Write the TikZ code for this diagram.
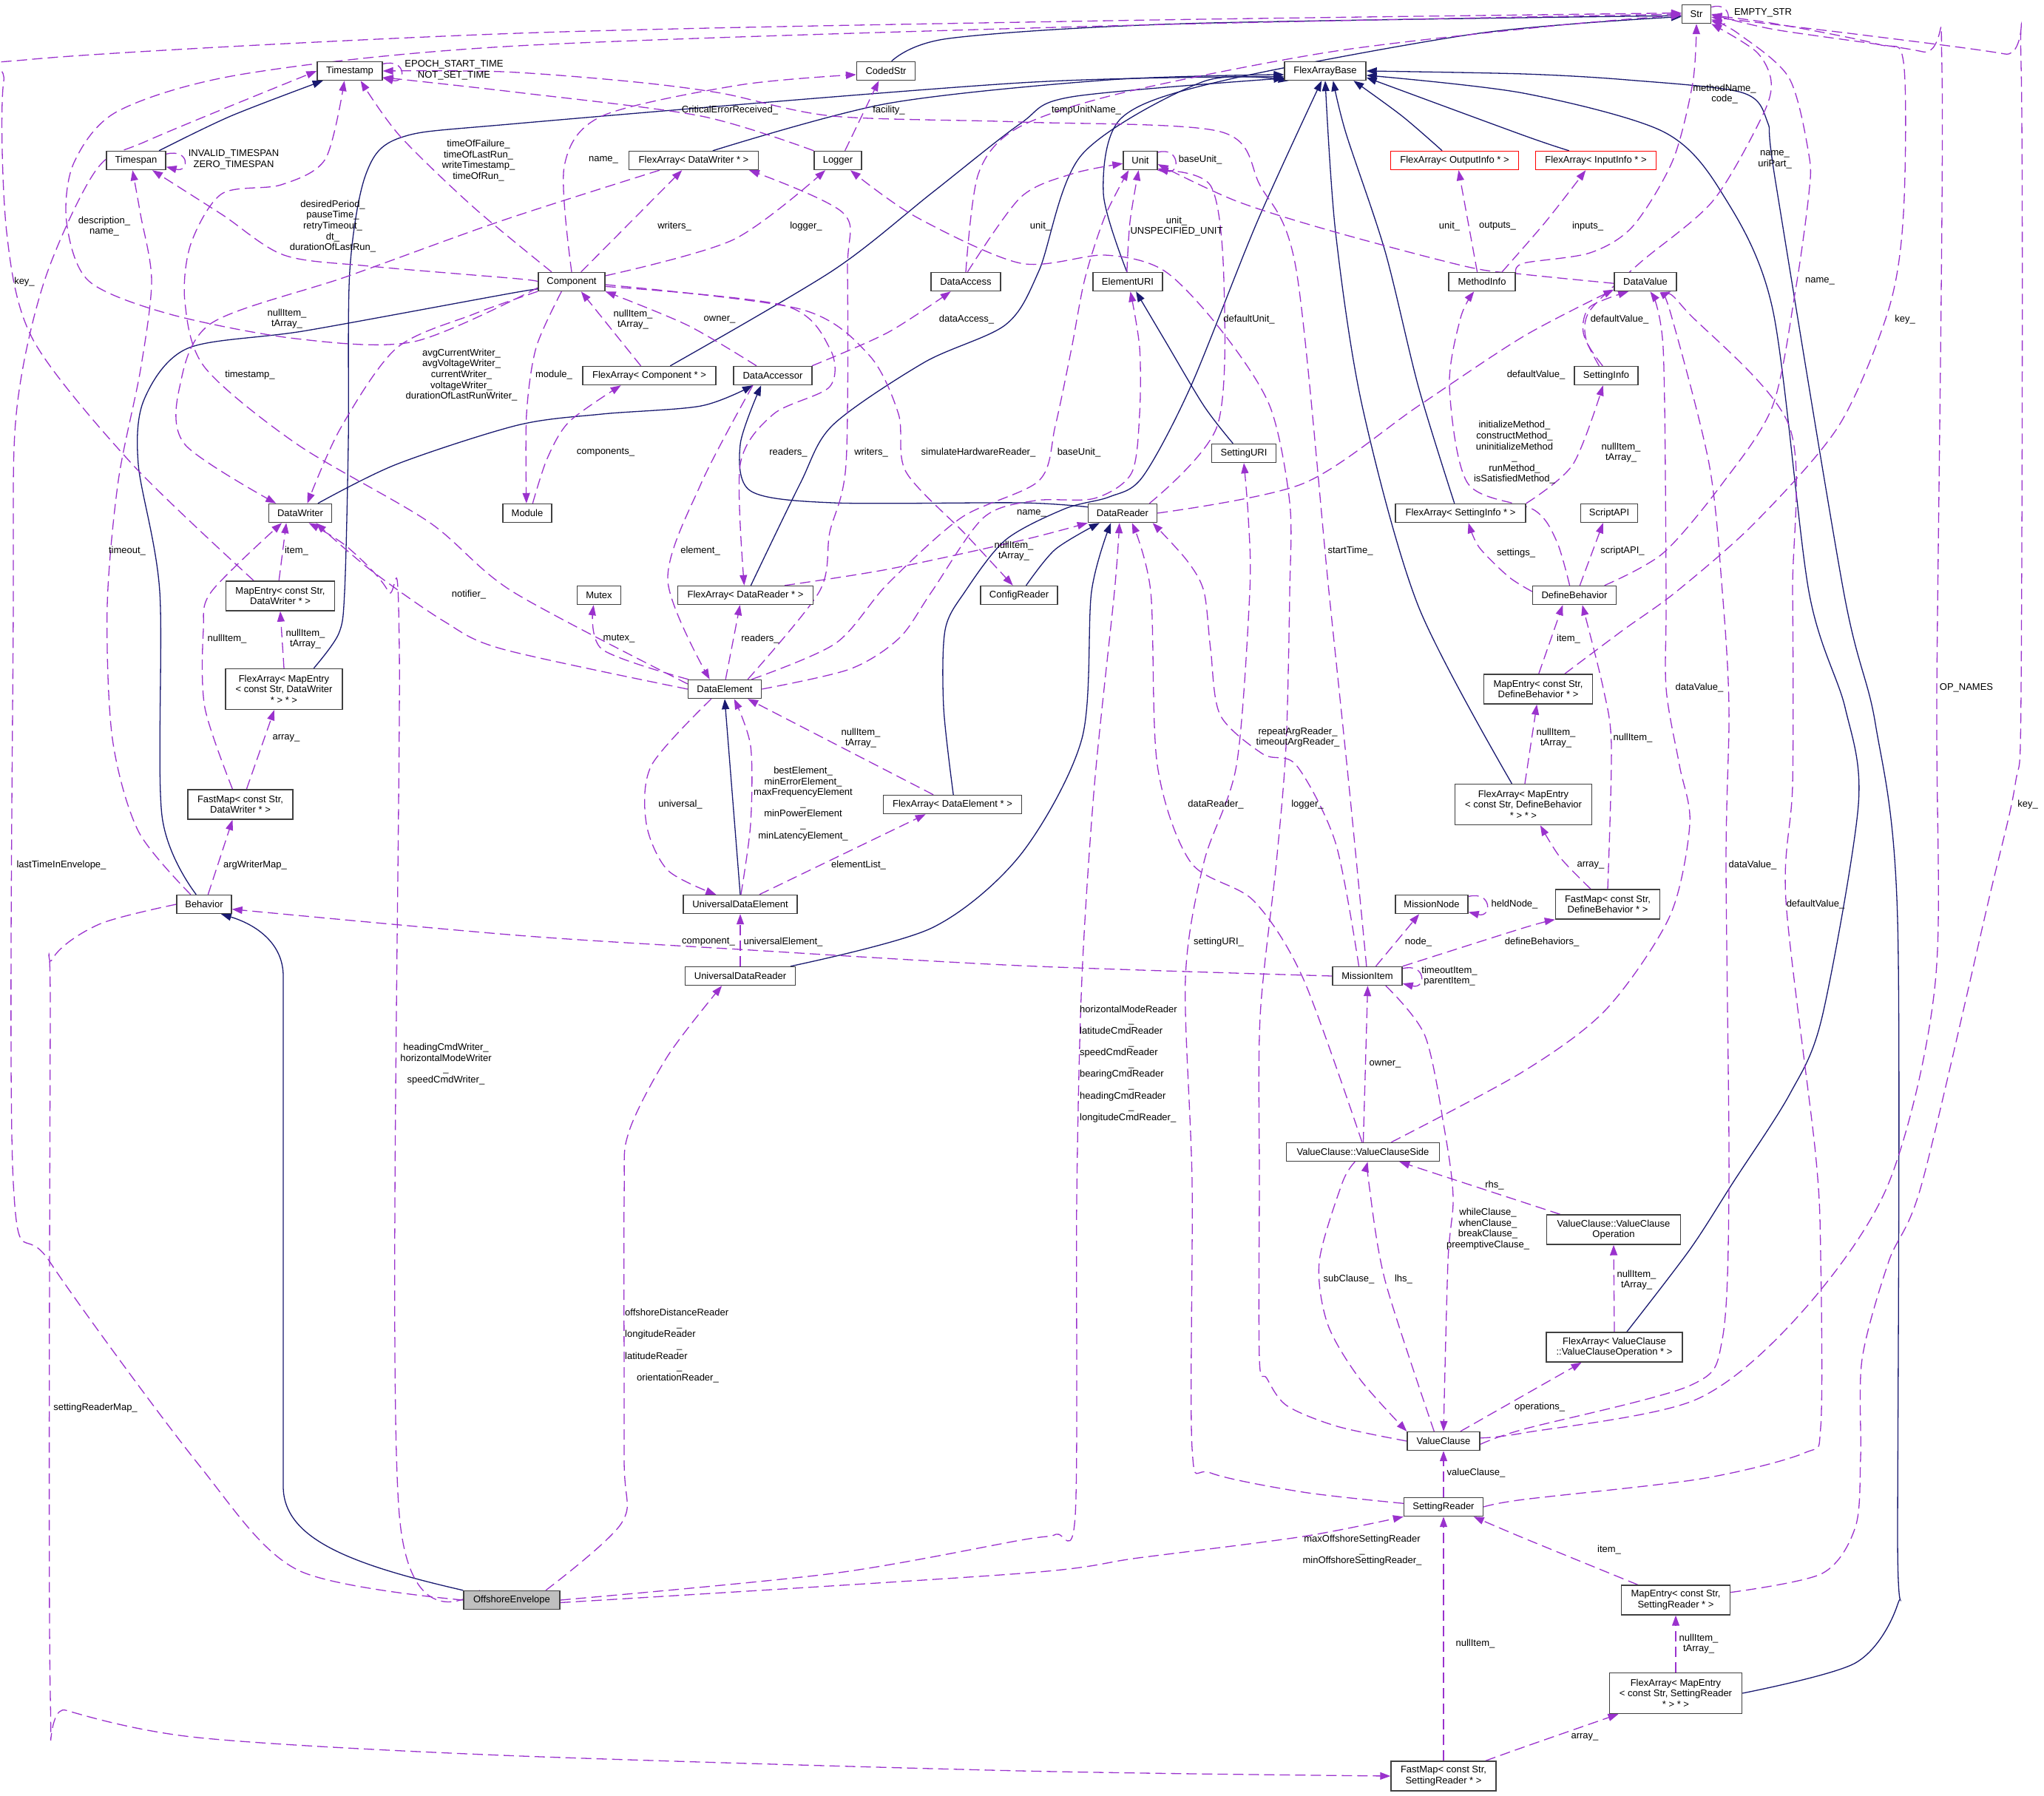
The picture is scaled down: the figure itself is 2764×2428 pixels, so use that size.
\documentclass[tikz,border=0pt]{standalone}
\usepackage{fontspec}
\setmainfont{Liberation Sans}
\usetikzlibrary{arrows.meta,backgrounds}

\definecolor{inhcol}{HTML}{191970}
\definecolor{usecol}{HTML}{9A32CD}

\tikzset{
  cls/.style={draw=black!75, line width=1.4pt, fill=white, inner xsep=2pt, inner ysep=2pt, minimum height=25pt, align=center},
  clstwo/.style={cls, minimum height=40pt},
  clsthree/.style={cls, minimum height=55pt},
  hot/.style={cls, fill=black!25},
  trunc/.style={cls, draw=red},
  uses/.style={draw=usecol, line width=1.3pt, dash pattern=on 14pt off 7pt, -{Triangle[length=14pt,width=10pt]}},
  inh/.style={draw=inhcol, line width=1.3pt, -{Triangle[length=14pt,width=10pt]}},
  lbl/.style={align=center, inner sep=0pt},
}

\begin{document}
\begin{tikzpicture}[x=1pt,y=-1pt,font=\fontsize{13}{14.6}\selectfont]
\useasboundingbox (0,0) rectangle (2764,2428);

% classes
\node[cls, minimum width=88pt]  (ts)     at (473,96)   {Timestamp};
\node[cls, minimum width=80pt]  (tspan)  at (184,217)  {Timespan};
\node[cls, minimum width=79pt]  (coded)  at (1198,96)  {CodedStr};
\node[cls, minimum width=110pt] (fab)    at (1792,96)  {FlexArrayBase};
\node[cls, minimum width=39pt]  (str)    at (2294,19)  {Str};
\node[cls, minimum width=175pt] (fadw)   at (938,217)  {FlexArray< DataWriter * >};
\node[cls, minimum width=64pt]  (logger) at (1133,217) {Logger};
\node[cls, minimum width=46pt]  (unit)   at (1542,217) {Unit};
\node[trunc, minimum width=173pt] (faoi) at (1967,217) {FlexArray< OutputInfo * >};
\node[trunc, minimum width=163pt] (faii) at (2158,217) {FlexArray< InputInfo * >};
\node[cls, minimum width=90pt]  (comp)   at (773,381)  {Component};
\node[cls, minimum width=94pt]  (dacc)   at (1306,381) {DataAccess};
\node[cls, minimum width=94pt]  (euri)   at (1525,381) {ElementURI};
\node[cls, minimum width=90pt]  (minfo)  at (2004,381) {MethodInfo};
\node[cls, minimum width=84pt]  (dval)   at (2225,381) {DataValue};
\node[cls, minimum width=180pt] (facomp) at (878,508)  {FlexArray< Component * >};
\node[cls, minimum width=106pt] (dacr)   at (1045,508) {DataAccessor};
\node[cls, minimum width=86pt]  (sinfo)  at (2172,508) {SettingInfo};
\node[cls, minimum width=87pt]  (suri)   at (1682,613) {SettingURI};
\node[cls, minimum width=85pt]  (dw)     at (406,694)  {DataWriter};
\node[cls, minimum width=66pt]  (module) at (713,694)  {Module};
\node[cls, minimum width=93pt]  (dr)     at (1518,694) {DataReader};
\node[cls, minimum width=176pt] (fasi)   at (1975,694) {FlexArray< SettingInfo * >};
\node[cls, minimum width=77pt]  (sapi)   at (2176,694) {ScriptAPI};
\node[clstwo, minimum width=147pt] (medw) at (379,806) {MapEntry< const Str,\\DataWriter * >};
\node[cls, minimum width=59pt]  (mutex)  at (810,805)  {Mutex};
\node[cls, minimum width=183pt] (fadr)   at (1008,805) {FlexArray< DataReader * >};
\node[cls, minimum width=104pt] (cfgr)   at (1378,805) {ConfigReader};
\node[cls, minimum width=113pt] (defb)   at (2129,805) {DefineBehavior};
\node[clsthree, minimum width=158pt] (famedw) at (384,932) {FlexArray< MapEntry\\< const Str, DataWriter\\* > * >};
\node[cls, minimum width=99pt]  (de)     at (980,932)  {DataElement};
\node[clstwo, minimum width=147pt] (medb) at (2080,932) {MapEntry< const Str,\\DefineBehavior * >};
\node[clstwo, minimum width=142pt] (fmdw) at (325,1088) {FastMap< const Str,\\DataWriter * >};
\node[cls, minimum width=187pt] (fade)   at (1288,1088) {FlexArray< DataElement * >};
\node[clsthree, minimum width=185pt] (famedb) at (2060,1088) {FlexArray< MapEntry\\< const Str, DefineBehavior\\* > * >};
\node[cls, minimum width=74pt]  (beh)    at (276,1223) {Behavior};
\node[cls, minimum width=154pt] (ude)    at (1001,1223) {UniversalDataElement};
\node[cls, minimum width=98pt]  (mnode)  at (1936,1223) {MissionNode};
\node[clstwo, minimum width=141pt] (fmdb) at (2174,1223) {FastMap< const Str,\\DefineBehavior * >};
\node[cls, minimum width=149pt] (udr)    at (1001,1320) {UniversalDataReader};
\node[cls, minimum width=94pt]  (mitem)  at (1849,1320) {MissionItem};
\node[cls, minimum width=207pt] (vcs)    at (1843,1558) {ValueClause::ValueClauseSide};
\node[clstwo, minimum width=181pt] (vco)  at (2182,1663) {ValueClause::ValueClause\\Operation};
\node[clstwo, minimum width=184pt] (favco) at (2183,1822) {FlexArray< ValueClause\\::ValueClauseOperation * >};
\node[cls, minimum width=98pt]  (vc)     at (1952,1949) {ValueClause};
\node[cls, minimum width=107pt] (sr)     at (1952,2038) {SettingReader};
\node[clstwo, minimum width=147pt] (mesr) at (2266,2164) {MapEntry< const Str,\\SettingReader * >};
\node[clsthree, minimum width=179pt] (famesr) at (2266,2290) {FlexArray< MapEntry\\< const Str, SettingReader\\* > * >};
\node[hot, minimum width=130pt] (oe)     at (692,2164) {OffshoreEnvelope};
\node[clstwo, minimum width=142pt] (fmsr) at (1952,2402) {FastMap< const Str,\\SettingReader * >};

% member labels
\node[lbl] (l1)  at (614,95)    {EPOCH\_START\_TIME\\NOT\_SET\_TIME};
\node[lbl] (l2)  at (316,216)   {INVALID\_TIMESPAN\\ZERO\_TIMESPAN};
\node[lbl] (l3)  at (2384,17)   {EMPTY\_STR};
\node[lbl] (l4)  at (1623,216)  {baseUnit\_};
\node[lbl] (l5)  at (2048,1223) {heldNode\_};
\node[lbl] (l6)  at (1960,1320) {timeoutItem\_\\parentItem\_};
\node[lbl] (l7)  at (647,217)   {timeOfFailure\_\\timeOfLastRun\_\\writeTimestamp\_\\timeOfRun\_};
\node[lbl] (l8)  at (450,306)   {desiredPeriod\_\\pauseTime\_\\retryTimeout\_\\dt\_\\durationOfLastRun\_};
\node[lbl] (l9)  at (816,216)   {name\_};
\node[lbl] (l10) at (912,306)   {writers\_};
\node[lbl] (l11) at (1090,306)  {logger\_};
\node[lbl] (l12) at (624,507)   {avgCurrentWriter\_\\avgVoltageWriter\_\\currentWriter\_\\voltageWriter\_\\durationOfLastRunWriter\_};
\node[lbl] (l13) at (749,507)   {module\_};
\node[lbl] (l14) at (819,612)   {components\_};
\node[lbl] (l15) at (856,432)   {nullItem\_\\tArray\_};
\node[lbl] (l16) at (973,432)   {owner\_};
\node[lbl] (l17) at (1307,432)  {dataAccess\_};
\node[lbl] (l18) at (1323,612)  {simulateHardwareReader\_};
\node[lbl] (l19) at (1469,149)  {tempUnitName\_};
\node[lbl] (l20) at (1407,306)  {unit\_};
\node[lbl] (l21) at (1202,149)  {facility\_};
\node[lbl] (l22) at (987,149)   {CriticalErrorReceived\_};
\node[lbl] (l23) at (1826,745)  {startTime\_};
\node[lbl] (l24) at (388,431)   {nullItem\_\\tArray\_};
\node[lbl] (l25) at (338,507)   {timestamp\_};
\node[lbl] (l26) at (634,804)   {notifier\_};
\node[lbl] (l27) at (837,864)   {mutex\_};
\node[lbl] (l28) at (1028,864)  {readers\_};
\node[lbl] (l29) at (1371,745)  {nullItem\_\\tArray\_};
\node[lbl] (l30) at (1066,612)  {readers\_};
\node[lbl] (l31) at (1178,612)  {writers\_};
\node[lbl] (l32) at (947,745)   {element\_};
\node[lbl] (l33) at (1591,306)  {unit\_\\UNSPECIFIED\_UNIT};
\node[lbl] (l34) at (1689,432)  {defaultUnit\_};
\node[lbl] (l35) at (1459,612)  {baseUnit\_};
\node[lbl] (l36) at (1395,694)  {name\_};
\node[lbl] (l37) at (2077,507)  {defaultValue\_};
\node[lbl] (l38) at (2190,432)  {defaultValue\_};
\node[lbl] (l39) at (2400,216)  {name\_\\uriPart\_};
\node[lbl] (l40) at (2332,127)  {methodName\_\\code\_};
\node[lbl] (l41) at (2461,380)  {name\_};
\node[lbl] (l42) at (2576,432)  {key\_};
\node[lbl] (l43) at (1960,306)  {unit\_};
\node[lbl] (l44) at (2025,306)  {outputs\_};
\node[lbl] (l45) at (2147,306)  {inputs\_};
\node[lbl] (l46) at (2050,748)  {settings\_};
\node[lbl] (l47) at (2192,612)  {nullItem\_\\tArray\_};
\node[lbl] (l48) at (2048,612)  {initializeMethod\_\\constructMethod\_\\uninitializeMethod\\\_\\runMethod\_\\isSatisfiedMethod\_};
\node[lbl] (l49) at (2194,745)  {scriptAPI\_};
\node[lbl] (l50) at (2121,864)  {item\_};
\node[lbl] (l51) at (2104,998)  {nullItem\_\\tArray\_};
\node[lbl] (l52) at (2151,1170) {array\_};
\node[lbl] (l53) at (2208,998)  {nullItem\_};
\node[lbl] (l54) at (2085,1274) {defineBehaviors\_};
\node[lbl] (l55) at (1918,1274) {node\_};
\node[lbl] (l56) at (958,1274)  {component\_};
\node[lbl] (l57) at (1059,1274) {universalElement\_};
\node[lbl] (l58) at (1086,1087) {bestElement\_\\minErrorElement\_\\maxFrequencyElement\\\_\\minPowerElement\\\_\\minLatencyElement\_};
\node[lbl] (l59) at (920,1088)  {universal\_};
\node[lbl] (l60) at (1161,1170) {elementList\_};
\node[lbl] (l61) at (1164,998)  {nullItem\_\\tArray\_};
\node[lbl, align=left, anchor=west] (l62) at (845,1820) {offshoreDistanceReader\\\hspace*{70pt}\_\\longitudeReader\\\hspace*{70pt}\_\\latitudeReader\\\hspace*{70pt}\_\\\hspace*{16pt}orientationReader\_};
\node[lbl] (l63) at (603,1439)  {headingCmdWriter\_\\horizontalModeWriter\\\_\\speedCmdWriter\_};
\node[lbl, align=left, anchor=west] (l64) at (1460,1439) {horizontalModeReader\\\hspace*{66pt}\_\\latitudeCmdReader\\\hspace*{66pt}\_\\speedCmdReader\\\hspace*{66pt}\_\\bearingCmdReader\\\hspace*{66pt}\_\\headingCmdReader\\\hspace*{66pt}\_\\longitudeCmdReader\_};
\node[lbl] (l65) at (1842,2097) {maxOffshoreSettingReader\\\_\\minOffshoreSettingReader\_};
\node[lbl] (l66) at (83,1170)   {lastTimeInEnvelope\_};
\node[lbl] (l67) at (33,381)    {key\_};
\node[lbl] (l68) at (401,745)   {item\_};
\node[lbl] (l69) at (413,864)   {nullItem\_\\tArray\_};
\node[lbl] (l70) at (387,998)   {array\_};
\node[lbl] (l71) at (307,864)   {nullItem\_};
\node[lbl] (l72) at (345,1170)  {argWriterMap\_};
\node[lbl] (l73) at (172,745)   {timeout\_};
\node[lbl] (l74) at (141,306)   {description\_\\name\_};
\node[lbl] (l75) at (2659,930)  {OP\_NAMES};
\node[lbl] (l76) at (2298,930)  {dataValue\_};
\node[lbl] (l77) at (2370,1170) {dataValue\_};
\node[lbl] (l78) at (2455,1223) {defaultValue\_};
\node[lbl] (l79) at (2742,1088) {key\_};
\node[lbl] (l80) at (2021,1603) {rhs\_};
\node[lbl] (l81) at (2213,1731) {nullItem\_\\tArray\_};
\node[lbl] (l82) at (2082,1903) {operations\_};
\node[lbl] (l83) at (1898,1730) {lhs\_};
\node[lbl] (l84) at (1824,1730) {subClause\_};
\node[lbl] (l85) at (2012,1662) {whileClause\_\\whenClause\_\\breakClause\_\\preemptiveClause\_};
\node[lbl] (l86) at (1873,1439) {owner\_};
\node[lbl] (l87) at (1644,1088) {dataReader\_};
\node[lbl] (l88) at (1755,997)  {repeatArgReader\_\\timeoutArgReader\_};
\node[lbl] (l89) at (1768,1088) {logger\_};
\node[lbl] (l90) at (1648,1274) {settingURI\_};
\node[lbl] (l91) at (1996,1992) {valueClause\_};
\node[lbl] (l92) at (2176,2096) {item\_};
\node[lbl] (l93) at (2297,2223) {nullItem\_\\tArray\_};
\node[lbl] (l94) at (2143,2349) {array\_};
\node[lbl] (l95) at (1995,2223) {nullItem\_};
\node[lbl] (l96) at (129,1904)  {settingReaderMap\_};

\begin{pgfonlayer}{background}
% inheritance
\draw[inh] plot[smooth,tension=.5] coordinates {(tspan.23) (312,157) (ts.200)};
\draw[inh] plot[smooth,tension=.5] coordinates {(coded.60) (1283,52) (1600,32) (str.186)};
\draw[inh] plot[smooth,tension=.5] coordinates {(euri.95) (1492,261) (1516,160) (1650,110) (2000,45) (str.190)};
\draw[inh] plot[smooth,tension=.5] coordinates {(fadw.27) (1200,140) (1500,108) (fab.185)};
\draw[inh] plot[smooth,tension=.5] coordinates {(famedw.35) (458,857) (466,800) (471,600) (473,366) (495,235) (542,186) (700,167) (1380,112) (fab.188)};
\draw[inh] plot[smooth,tension=.5] coordinates {(facomp.25) (1126,366) (1260,261) (1380,167) (1449,131) (fab.190)};
\draw[inh] plot[smooth,tension=.5] coordinates {(fadr.61) (1082,654) (1126,575) (1250,490) (1360,439) (1405,366) (1463,209) (1628,110) (fab.195)};
\draw[inh] plot[smooth,tension=.5] coordinates {(fade.85) (1276,957) (1278,852) (1305,800) (1360,730) (1440,688) (1500,672) (1545,645) (1610,523) (1700,300) (fab.250)};
\draw[inh] plot[smooth,tension=.5] coordinates {(faoi.142) (1896,157) (fab.-19)};
\draw[inh] plot[smooth,tension=.5] coordinates {(faii.160) (2060,183) (fab.-9)};
\draw[inh] plot[smooth,tension=.5] coordinates {(fasi.122) (1918,523) (1873,340) (1820,180) (fab.-51)};
\draw[inh] plot[smooth,tension=.5] coordinates {(famedb.119) (1918,820) (1842,549) (1806,314) (fab.south)};
\draw[inh] plot[smooth,tension=.5] coordinates {(favco.51) (2285,1690) (2343,1600) (2420,1480) (2464,1375) (2513,1088) (2495,957) (2446,800) (2397,418) (2329,262) (2249,178) (2060,126) (fab.-6)};
\draw[inh] plot[smooth,tension=.5] coordinates {(famesr.east) (2509,2249) (2566,2170) (2566,2075) (2566,1245) (2536,979) (2493,800) (2401,246) (2390,165) (2355,125) (2200,108) (2060,100) (fab.east)};
\draw[inh] plot[smooth,tension=.5] coordinates {(beh.129) (219,1103) (216,800) (187,628) (195,540) (254,471) (415,447) (700,395) (comp.194)};
\draw[inh] plot[smooth,tension=.5] coordinates {(dw.29) (536,628) (700,575) (814,560) (948,549) (dacr.206)};
\draw[inh] plot[smooth,tension=.5] coordinates {(dr.170) (1380,680) (1126,680) (1015,664) (1001,601) (dacr.220)};
\draw[inh] plot[smooth,tension=.5] coordinates {(udr.11) (1260,1255) (1380,1156) (1463,999) (1476,800) (dr.-140)};
\draw[inh] (ude.north) -- (de.south);
\draw[inh] plot[smooth,tension=.5] coordinates {(cfgr.54) (1427,743) (dr.-157)};
\draw[inh] plot[smooth,tension=.5] coordinates {(suri.138) (1628,549) (1575,460) (euri.-50)};
\draw[inh] (oe.north west) .. controls (470,2115) and (383,2080) .. (383,2010) -- (383,1320) .. controls (383,1275) and (345,1250) .. (beh.-30);

% usage, self loops
\draw[uses] (ts.12) .. controls +(32,-8) and +(32,8) .. (ts.-12);
\draw[uses] (tspan.12) .. controls +(32,-8) and +(32,8) .. (tspan.-12);
\draw[uses] (str.25) .. controls +(28,-8) and +(28,8) .. (str.-25);
\draw[uses] (unit.25) .. controls +(30,-8) and +(30,8) .. (unit.-25);
\draw[uses] (mnode.12) .. controls +(32,-8) and +(32,8) .. (mnode.-12);
\draw[uses] (mitem.12) .. controls +(32,-8) and +(32,8) .. (mitem.-12);

% usage
\draw[uses] plot[smooth,tension=.5] coordinates {(comp.154) (640,280) (540,183) (ts.-42)};
\draw[uses] plot[smooth,tension=.5] coordinates {(comp.west) (700,377) (500,360) (384,345) (300,290) (tspan.-31)};
\draw[uses] plot[smooth,tension=.5] coordinates {(comp.north) (763,225) (814,157) (1000,115) (coded.187)};
\draw[uses] (comp.46) -- (fadw.220);
\draw[uses] plot[smooth,tension=.5] coordinates {(comp.10) (992,324) (logger.218)};
\draw[uses] plot[smooth,tension=.5] coordinates {(comp.-164) (640,425) (536,471) (460,580) (dw.54)};
\draw[uses] plot[smooth,tension=.5] coordinates {(comp.-136) (725,470) (712,560) (module.95)};
\draw[uses] plot[smooth,tension=.5] coordinates {(module.61) (740,620) (770,570) (facomp.-161)};
\draw[uses] (facomp.131) -- (comp.-46);
\draw[uses] plot[smooth,tension=.5] coordinates {(dacr.149) (930,440) (comp.south east)};
\draw[uses] plot[smooth,tension=.5] coordinates {(dacr.14) (1200,450) (dacc.-147)};
\draw[uses] plot[smooth,tension=.5] coordinates {(comp.-5) (1082,418) (1175,480) (1215,560) (1225,638) (1305,722) (cfgr.122)};
\draw[uses] plot[smooth,tension=.5] coordinates {(dacc.north) (1323,235) (1376,173) (1516,126) (1800,70) (2100,35) (str.184)};
\draw[uses] plot[smooth,tension=.5] coordinates {(dacc.80) (1380,267) (1450,235) (unit.190)};
\draw[uses] (logger.54) -- (coded.-126);
\draw[uses] plot[smooth,tension=.5] coordinates {(logger.north west) (948,157) (700,125) (ts.-11)};
\draw[uses] plot[smooth,tension=.5] coordinates {(mitem.95) (1824,1061) (1797,800) (1753,366) (1704,251) (1650,178) (1380,165) (1126,157) (975,126) (850,110) (680,97) (ts.east)};
\draw[uses] plot[smooth,tension=.5] coordinates {(fadw.-164) (680,298) (469,374) (286,437) (243,523) (250,601) (dw.158)};
\draw[uses] plot[smooth,tension=.5] coordinates {(de.172) (693,800) (580,706) (402,601) (277,497) (250,408) (258,330) (300,262) (380,250) (440,215) (ts.-119)};
\draw[uses] plot[smooth,tension=.5] coordinates {(de.west) (680,878) (600,840) (500,770) (dw.-32)};
\draw[uses] plot[smooth,tension=.5] coordinates {(de.165) (814,878) (mutex.-119)};
\draw[uses] (de.85) -- (fadr.-119);
\draw[uses] plot[smooth,tension=.5] coordinates {(fadr.14) (1200,770) (1380,731) (dr.south west)};
\draw[uses] plot[smooth,tension=.5] coordinates {(comp.-8) (1060,413) (1122,471) (1122,523) (1046,560) (1001,628) (fadr.97)};
\draw[uses] plot[smooth,tension=.5] coordinates {(de.23) (1108,800) (1122,720) (1144,628) (1146,366) (1140,288) (fadw.-10)};
\draw[uses] plot[smooth,tension=.5] coordinates {(dacr.-154) (948,654) (903,785) (de.147)};
\draw[uses] plot[smooth,tension=.5] coordinates {(de.east) (1149,905) (1216,863) (1260,800) (1330,700) (1400,677) (1480,674) (1530,640) (1541,560) (1541,470) (euri.-75)};
\draw[uses] plot[smooth,tension=.5] coordinates {(de.20) (1130,870) (1200,790) (1300,700) (1405,650) (1427,576) (1449,471) (1467,377) (1494,293) (unit.-140)};
\draw[uses] plot[smooth,tension=.5] coordinates {(euri.95) (1528,300) (unit.-100)};
\draw[uses] plot[smooth,tension=.5] coordinates {(dr.20) (1646,576) (1655,380) (1637,251) (unit.-30)};
\draw[uses] plot[smooth,tension=.5] coordinates {(dr.east) (1762,654) (1918,549) (2060,455) (dval.-166)};
\draw[uses] plot[smooth,tension=.5] coordinates {(sinfo.126) (2141,450) (2150,415) (dval.-150)};
\draw[uses] plot[smooth,tension=.5] coordinates {(sinfo.110) (2145,460) (2150,420) (2217,356) (2316,272) (2383,157) (2395,110) (2375,70) (str.south east)};
\draw[uses] plot[smooth,tension=.5] coordinates {(minfo.14) (2060,356) (2150,342) (2208,306) (2262,217) (2289,112) (str.south)};
\draw[uses] plot[smooth,tension=.5] coordinates {(defb.18) (2249,748) (2329,654) (2397,549) (2428,392) (2446,262) (2446,209) (2419,105) (2350,45) (str.-20)};
\draw[uses] plot[smooth,tension=.5] coordinates {(medb.30) (2195,852) (2267,800) (2374,706) (2487,575) (2554,418) (2574,288) (2574,84) (2540,60) (2400,32) (str.-5)};
\draw[uses] plot[smooth,tension=.5] coordinates {(dval.183) (2060,371) (1985,361) (1806,314) (1672,272) (unit.-12)};
\draw[uses] (minfo.116) -- (faoi.-68);
\draw[uses] plot[smooth,tension=.5] coordinates {(minfo.26) (2090,300) (faii.-136)};
\draw[uses] plot[smooth,tension=.5] coordinates {(defb.175) (2040,780) (2000,740) (fasi.-51)};
\draw[uses] plot[smooth,tension=.5] coordinates {(fasi.north east) (2127,628) (sinfo.-108)};
\draw[uses] plot[smooth,tension=.5] coordinates {(defb.116) (2105,732) (2075,690) (1985,654) (1960,523) (1975,430) (minfo.-129)};
\draw[uses] (defb.61) -- (sapi.-122);
\draw[uses] (medb.88) -- (defb.-140);
\draw[uses] (famedb.86) -- (medb.-95);
\draw[uses] plot[smooth,tension=.5] coordinates {(fmdb.138) (2110,1160) (famedb.-51)};
\draw[uses] plot[smooth,tension=.5] coordinates {(fmdb.north) (2179,1009) (2168,931) (defb.-51)};
\draw[uses] plot[smooth,tension=.5] coordinates {(mitem.north east) (2060,1255) (fmdb.south west)};
\draw[uses] (mitem.49) -- (mnode.-142);
\draw[uses] plot[smooth,tension=.5] coordinates {(mitem.west) (1380,1306) (1000,1284) (700,1265) (beh.-10)};
\draw[uses] (udr.north) -- (ude.south);
\draw[uses] plot[smooth,tension=.5] coordinates {(ude.86) (1015,1114) (1015,1009) (de.-46)};
\draw[uses] plot[smooth,tension=.5] coordinates {(de.-144) (881,1035) (874,1114) (903,1177) (ude.158)};
\draw[uses] (ude.27) -- (fade.-160);
\draw[uses] (fade.153) -- (de.-23);
\draw[uses] plot[smooth,tension=.5] coordinates {(oe.16) (841,2059) (844,1970) (844,1620) (850,1532) (903,1428) (udr.-152)};
\draw[uses] plot[smooth,tension=.5] coordinates {(oe.163) (540,2049) (540,880) (525,800) (470,740) (dw.-49)};
\draw[uses] plot[smooth,tension=.5] coordinates {(oe.east) (1126,2128) (1380,2083) (1428,2075) (1454,2049) (1456,1620) (1463,1323) (1480,1061) (1507,800) (dr.-108)};
\draw[uses] plot[smooth,tension=.5] coordinates {(oe.-3) (1380,2128) (1539,2107) (1762,2078) (sr.south west)};
\draw[uses] plot[smooth,tension=.5] coordinates {(oe.west) (402,2123) (268,1980) (67,1706) (18,1600) (18,820) (22,560) (60,380) (130,230) (200,190) (ts.west)};
\draw[uses] plot[smooth,tension=.5] coordinates {(medw.150) (179,628) (45,460) (9,314) (5,110) (45,80) (700,45) (1500,28) (str.176)};
\draw[uses] (medw.95) -- (dw.-145);
\draw[uses] (famedw.north) -- (medw.south);
\draw[uses] (fmdw.68) -- (famedw.-115);
\draw[uses] plot[smooth,tension=.5] coordinates {(fmdw.117) (277,957) (275,852) (286,800) (dw.-152)};
\draw[uses] (beh.68) -- (fmdw.-117);
\draw[uses] plot[smooth,tension=.5] coordinates {(beh.144) (187,1124) (152,999) (145,820) (160,650) (190,500) (205,380) (190,290) (tspan.-110)};
\draw[uses] plot[smooth,tension=.5] coordinates {(beh.west) (134,1250) (71,1297) (68,1375) (68,2292) (89,2313) (268,2350) (680,2374) (1380,2395) (fmsr.west)};
\draw[uses] plot[smooth,tension=.5] coordinates {(comp.-170) (560,462) (400,458) (230,425) (120,380) (90,300) (100,220) (160,150) (330,100) (700,62) (1500,35) (str.180)};
\draw[uses] plot[smooth,tension=.5] coordinates {(vc.5) (2060,1938) (2293,1893) (2437,1774) (2554,1600) (2617,1328) (2619,931) (2626,94) (2600,70) (2400,40) (str.0)};
\draw[uses] plot[smooth,tension=.5] coordinates {(vcs.19) (2060,1449) (2172,1365) (2258,1239) (2285,1114) (2271,1035) (2253,931) (2253,800) (2249,471) (dval.-64)};
\draw[uses] plot[smooth,tension=.5] coordinates {(vc.-5) (2060,1933) (2285,1874) (2329,1811) (2338,1600) (2334,1166) (2338,957) (2329,800) (2311,627) (2258,420) (dval.-36)};
\draw[uses] plot[smooth,tension=.5] coordinates {(sr.east) (2060,2028) (2300,2000) (2440,1965) (2462,1930) (2462,1700) (2455,1560) (2415,1218) (2424,1061) (2424,800) (2419,575) (2280,420) (dval.-21)};
\draw[uses] plot[smooth,tension=.5] coordinates {(mesr.8) (2464,2128) (2509,2065) (2516,1970) (2518,1838) (2554,1706) (2599,1600) (2689,1218) (2725,1061) (2733,931) (2733,89) (2711,73) (2500,45) (str.-12)};
\draw[uses] (vco.164) -- (vcs.-15);
\draw[uses] (favco.north) -- (vco.south);
\draw[uses] (vc.30) -- (favco.-155);
\draw[uses] plot[smooth,tension=.5] coordinates {(vc.134) (1873,1732) (1851,1600) (vcs.-64)};
\draw[uses] plot[smooth,tension=.5] coordinates {(vcs.-129) (1815,1600) (1784,1706) (1795,1790) (1838,1864) (vc.north west)};
\draw[uses] plot[smooth,tension=.5] coordinates {(mitem.-28) (1927,1401) (1954,1532) (1965,1620) (1958,1706) (vc.north)};
\draw[uses] (vcs.88) -- (mitem.-88);
\draw[uses] plot[smooth,tension=.5] coordinates {(vcs.95) (1762,1323) (1695,1218) (1610,1166) (1565,1035) (1556,800) (dr.-46)};
\draw[uses] plot[smooth,tension=.5] coordinates {(mitem.131) (1806,1140) (1753,1035) (1708,1020) (1650,967) (1637,878) (1628,800) (1605,758) (dr.-18)};
\draw[uses] plot[smooth,tension=.5] coordinates {(vc.west) (1808,1929) (1740,1901) (1713,1864) (1703,1838) (1703,1600) (1704,1375) (1726,1166) (1739,1009) (1744,800) (1744,680) (1717,549) (1650,445) (1574,366) (1494,345) (1380,356) (1238,293) (logger.-38)};
\draw[uses] plot[smooth,tension=.5] coordinates {(sr.175) (1762,2018) (1637,1992) (1612,1959) (1612,1600) (1603,1323) (1628,1166) (1672,1035) (1690,800) (1688,700) (suri.south)};
\draw[uses] (sr.north) -- (vc.south);
\draw[uses] plot[smooth,tension=.5] coordinates {(mesr.158) (2060,2080) (sr.-18)};
\draw[uses] (famesr.north) -- (mesr.south);
\draw[uses] plot[smooth,tension=.5] coordinates {(fmsr.20) (2060,2363) (famesr.-160)};
\draw[uses] (fmsr.north) -- (sr.south);
\end{pgfonlayer}
\end{tikzpicture}
\end{document}
